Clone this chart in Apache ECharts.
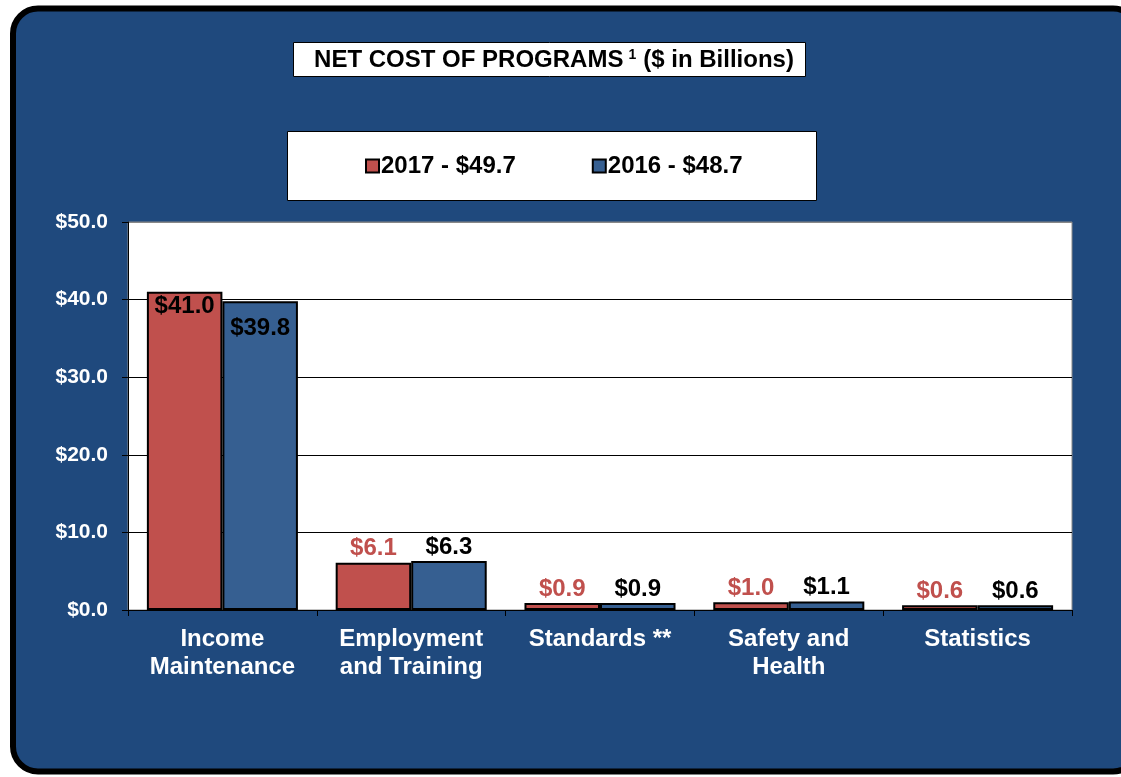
<!DOCTYPE html>
<html>
<head>
<meta charset="utf-8">
<script src="https://cdn.jsdelivr.net/npm/echarts@6/dist/echarts.min.js"></script>
<style>
html,body{margin:0;padding:0;background:#fff;}
#chart{width:1121px;height:777px;}
</style>
</head>
<body>
<div id="chart"></div>
<script>
var categories = ['Income\nMaintenance', 'Employment\nand Training', 'Standards **', 'Safety and\nHealth', 'Statistics'];
var values2017 = [41.0, 6.1, 0.9, 1.0, 0.6];
var values2016 = [39.8, 6.3, 0.9, 1.1, 0.6];
var seriesNames = ['2017 - $49.7', '2016 - $48.7'];
var yTicks = [0, 10, 20, 30, 40, 50];

var FONT = "'Liberation Sans', Arial, sans-serif";
var RED = '#C0504D', BLUE = '#365F91', RED_TXT = '#C0504D';

function fmt(v){ return '$' + Number(v).toFixed(1); }

function buildData(vals, isRed){
  return vals.map(function(v, i){
    var d = {value: v};
    if (i === 0) {
      d.label = {position: 'insideTop', color: '#000', distance: isRed ? 3 : 15};
    }
    return d;
  });
}

var chart = echarts.init(document.getElementById('chart'), null, {renderer: 'canvas'});
chart.setOption({
  backgroundColor: '#fff',
  animation: false,
  graphic: [
    {type: 'rect', shape: {x: 13, y: 8.5, width: 1125, height: 763, r: 25},
     style: {fill: '#1F497D', stroke: '#000', lineWidth: 6}, z: -10},
    {type: 'rect', shape: {x: 293.5, y: 42.5, width: 512, height: 34},
     style: {fill: '#fff', stroke: '#000', lineWidth: 1}, z: -5},
    {type: 'rect', shape: {x: 287.5, y: 131.5, width: 529, height: 69},
     style: {fill: '#fff', stroke: '#000', lineWidth: 1}, z: -5}
  ],
  title: {
    text: '{a|NET COST OF PROGRAMS}{s|1}{a|($ in Billions)}',
    left: 554, top: 60, textAlign: 'center', textVerticalAlign: 'middle',
    padding: 0,
    textStyle: {
      rich: {
        a: {fontFamily: FONT, fontWeight: 'bold', fontSize: 24, color: '#000'},
        s: {fontFamily: FONT, fontWeight: 'bold', fontSize: 14, color: '#000', verticalAlign: 'top', padding: [0,7,9,5]}
      }
    }
  },
  legend: {
    data: seriesNames,
    left: 360, top: 149,
    itemWidth: 13, itemHeight: 13, itemGap: 76,
    icon: 'rect',
    textStyle: {fontFamily: FONT, fontWeight: 'bold', fontSize: 24, color: '#000', padding: [0,0,0,-3]}
  },
  grid: {left: 128, right: 49, top: 222, bottom: 167, show: true, backgroundColor: '#fff', borderColor: '#888', borderWidth: 1},
  xAxis: {
    type: 'category', data: categories,
    axisLine: {lineStyle: {color: '#000', width: 1}},
    axisTick: {show: true, length: 6, alignWithLabel: false, lineStyle: {color: '#000'}},
    axisLabel: {color: '#fff', fontFamily: FONT, fontWeight: 'bold', fontSize: 24, lineHeight: 28, margin: 15, interval: 0}
  },
  yAxis: {
    type: 'value', min: yTicks[0], max: yTicks[yTicks.length-1], interval: 10,
    axisLine: {show: true, lineStyle: {color: '#000'}},
    axisTick: {show: true, length: 6, lineStyle: {color: '#000'}},
    axisLabel: {color: '#fff', fontFamily: FONT, fontWeight: 'bold', fontSize: 21, margin: 20, formatter: fmt},
    splitLine: {show: true, lineStyle: {color: ['#000','#000','#000','#000','#000','#888'], width: 1}}
  },
  series: [
    {name: seriesNames[0], type: 'bar', data: buildData(values2017, true),
     barGap: '0%', barCategoryGap: '20%',
     itemStyle: {color: RED, borderColor: '#000', borderWidth: 2},
     label: {show: true, position: 'top', distance: 2, formatter: function(p){return fmt(p.value);},
             color: RED_TXT, fontFamily: FONT, fontWeight: 'bold', fontSize: 24}},
    {name: seriesNames[1], type: 'bar', data: buildData(values2016, false),
     barGap: '0%', barCategoryGap: '20%',
     itemStyle: {color: BLUE, borderColor: '#000', borderWidth: 2},
     label: {show: true, position: 'top', distance: 2, formatter: function(p){return fmt(p.value);},
             color: '#000', fontFamily: FONT, fontWeight: 'bold', fontSize: 24}}
  ]
});
</script>
</body>
</html>
